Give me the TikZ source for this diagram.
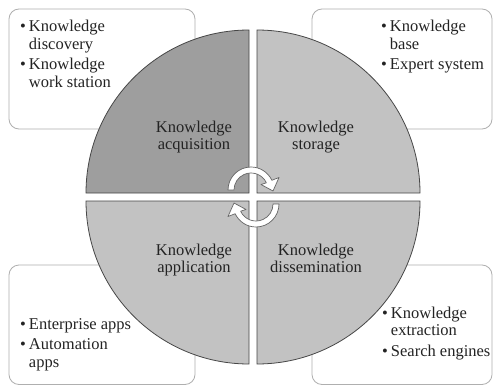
\documentclass[tikz,border=0pt]{standalone}
\usepackage{fontspec}
\setmainfont{Liberation Serif}
\definecolor{quaddark}{RGB}{158,158,158}
\definecolor{quadlight}{RGB}{194,194,194}
\definecolor{quadline}{RGB}{70,70,70}
\definecolor{boxline}{RGB}{175,175,175}
\definecolor{arrowline}{RGB}{100,100,100}
\definecolor{textgray}{RGB}{35,35,35}
\tikzstyle{quadrant} = [draw=quadline,line width=0.8pt]
\tikzstyle{infobox} = [draw=boxline,fill=white,rounded corners=10pt,line width=0.8pt]
\tikzstyle{label text} = [inner sep=0pt,anchor=base,text=textgray,font=\fontsize{16.5}{17.5}\selectfont]
\tikzstyle{list text} = [label text,anchor=base west]
\newcommand{\turnarrow}[2][]{
 \begin{scope}[shift={(#2)},#1]
  \filldraw[fill=white,draw=arrowline,line width=0.7pt,line join=round]
   (-17,0) -- (-23,0) arc (180:25:23) -- (28,12.5) -- (22,-1) -- (10,5.5)
   -- (15.4,7.2) arc (25:180:17) -- cycle;
 \end{scope}
}
\newcommand{\bulletlist}[1]{\begin{tabular}[t]{@{}l@{\hspace{3pt}}l@{}}#1\end{tabular}}
\newcommand{\twolines}[2]{\begin{tabular}[t]{@{}c@{}}#1\\#2\end{tabular}}

\begin{document}
\begin{tikzpicture}[x=1pt,y=1pt]
    \fill[white] (0,0) rectangle (494,386);
    \useasboundingbox (0,0) rectangle (494,386);

    % boxes behind the circle
    \draw[infobox] (9,257) rectangle (195,377);
    \draw[infobox] (312,257) rectangle (492,377);
    \draw[infobox] (9,1.5) rectangle (195,121);
    \draw[infobox] (312,1.5) rectangle (492,121);

    % four quadrants
    \filldraw[quadrant,fill=quaddark]  (249,193) -- (86,193) arc (180:90:163) -- cycle;
    \filldraw[quadrant,fill=quadlight] (257,193) -- (257,356) arc (90:0:163) -- cycle;
    \filldraw[quadrant,fill=quadlight] (249,185) -- (249,22) arc (270:180:163) -- cycle;
    \filldraw[quadrant,fill=quadlight] (257,185) -- (420,185) arc (0:-90:163) -- cycle;

    \turnarrow{251,196}
    \turnarrow[rotate=180]{256,182}

    \node[label text] (acq) at (194,254) {\twolines{Knowledge}{acquisition}};
    \node[label text] (sto) at (316,254) {\twolines{Knowledge}{storage}};
    \node[label text] (app) at (194,131) {\twolines{Knowledge}{application}};
    \node[label text] (dis) at (316,131) {\twolines{Knowledge}{dissemination}};

    % tools in each box
    \node[list text] (acqlist) at (20,354) {\bulletlist{\textbullet & Knowledge\\ & discovery\\[3pt] \textbullet & Knowledge\\ & work station}};
    \node[list text] (stolist) at (381,354) {\bulletlist{\textbullet & Knowledge\\ & base\\[3pt] \textbullet & Expert system}};
    \node[list text] (applist) at (20,57) {\bulletlist{\textbullet & Enterprise apps\\[3pt] \textbullet & Automation\\ & apps}};
    \node[list text] (dislist) at (382,68) {\bulletlist{\textbullet & Knowledge\\ & extraction\\[3pt] \textbullet & Search engines}};
\end{tikzpicture}
\end{document}
